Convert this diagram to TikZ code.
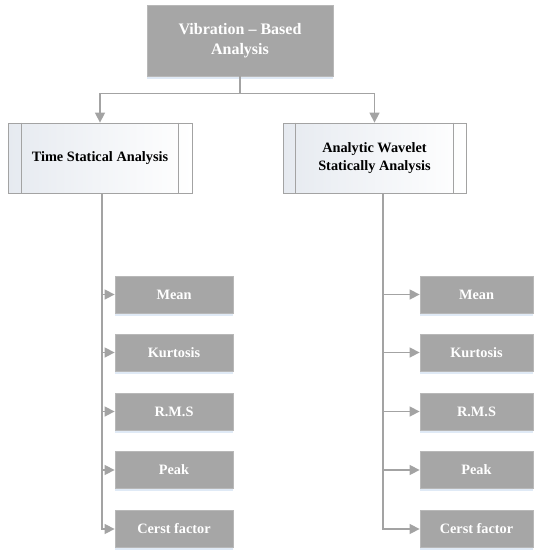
\documentclass[tikz,border=0pt]{standalone}
\usepackage{fontspec}
\setmainfont{Liberation Serif}
\usetikzlibrary{arrows.meta,shadows,calc}
\definecolor{boxgray}{HTML}{A6A6A6}
\definecolor{linegray}{HTML}{A3A3A3}
\definecolor{edgegray}{HTML}{B8B8B8}
\definecolor{procleft}{HTML}{E6EAF0}
\definecolor{shadowblue}{HTML}{DDE8F5}
\tikzset{
  graybox/.style={draw=edgegray, line width=0.8pt, fill=boxgray, text=white,
    font=\bfseries\fontsize{14.3}{17}\selectfont, align=center, inner sep=0pt,
    drop shadow={shadow xshift=0pt, shadow yshift=-2.5pt, fill=shadowblue, opacity=0.9}},
  procbox/.style={draw=linegray, line width=0.8pt, left color=procleft, right color=white,
    text=black, font=\bfseries\fontsize{14.3}{18}\selectfont, align=center, inner sep=0pt,
    minimum height=70pt},
  conn/.style={draw=linegray, line width=1.5pt, -{Triangle[length=10pt,width=10pt]}},
  trunk/.style={draw=linegray, line width=1.5pt}
}
\begin{document}
\begin{tikzpicture}[x=1pt,y=-1pt]
\useasboundingbox (0,0) rectangle (534,550);
% top
\node[graybox, minimum width=186pt, minimum height=71pt,
  font=\bfseries\fontsize{16}{20}\selectfont] (top) at (240,40.5) {Vibration -- Based\\Analysis};
% process boxes
\node[procbox, minimum width=184pt] (tsa) at (100,158) {Time Statical Analysis};
\draw[linegray, line width=0.8pt] ([xshift=14pt]tsa.north west) -- ([xshift=14pt]tsa.south west)
  ([xshift=-14pt]tsa.north east) -- ([xshift=-14pt]tsa.south east);
\node[procbox, minimum width=183pt] (awsa) at (374.5,158) {Analytic Wavelet\\Statically Analysis};
\draw[linegray, line width=0.8pt] ([xshift=13pt]awsa.north west) -- ([xshift=13pt]awsa.south west)
  ([xshift=-13pt]awsa.north east) -- ([xshift=-13pt]awsa.south east);
% left children
\foreach \n/\t/\y in {l1/Mean/294.5, l2/Kurtosis/352.5, l3/R.M.S/411.5, l4/Peak/470, l5/Cerst factor/529}{
  \node[graybox, minimum width=118pt, minimum height=37pt] (\n) at (174,\y) {\t};
}
% right children
\foreach \n/\t/\y in {r1/Mean/294.5, r2/Kurtosis/352.5, r3/R.M.S/411.5, r4/Peak/470, r5/Cerst factor/529}{
  \node[graybox, minimum width=113pt, minimum height=37pt] (\n) at (476.5,\y) {\t};
}
% top connectors
\coordinate (j) at ($(top.south)+(0,17)$);
\draw[trunk] (top.south) -- (j);
\draw[conn] (j) -| (tsa.north);
\draw[conn] (j) -| (awsa.north);
% left trunk
\coordinate (lt) at ([xshift=2pt]tsa.south);
\draw[conn] (lt) |- (l5.west);
\foreach \n in {l1,l2,l3,l4}{ \draw[conn] (lt |- \n.west) -- (\n.west); }
% right trunk
\coordinate (rt) at ([xshift=8.5pt]awsa.south);
\draw[conn] (rt) |- (r5.west);
\foreach \n in {r1,r2,r3,r4}{ \draw[conn] (rt |- \n.west) -- (\n.west); }
\end{tikzpicture}
\end{document}
